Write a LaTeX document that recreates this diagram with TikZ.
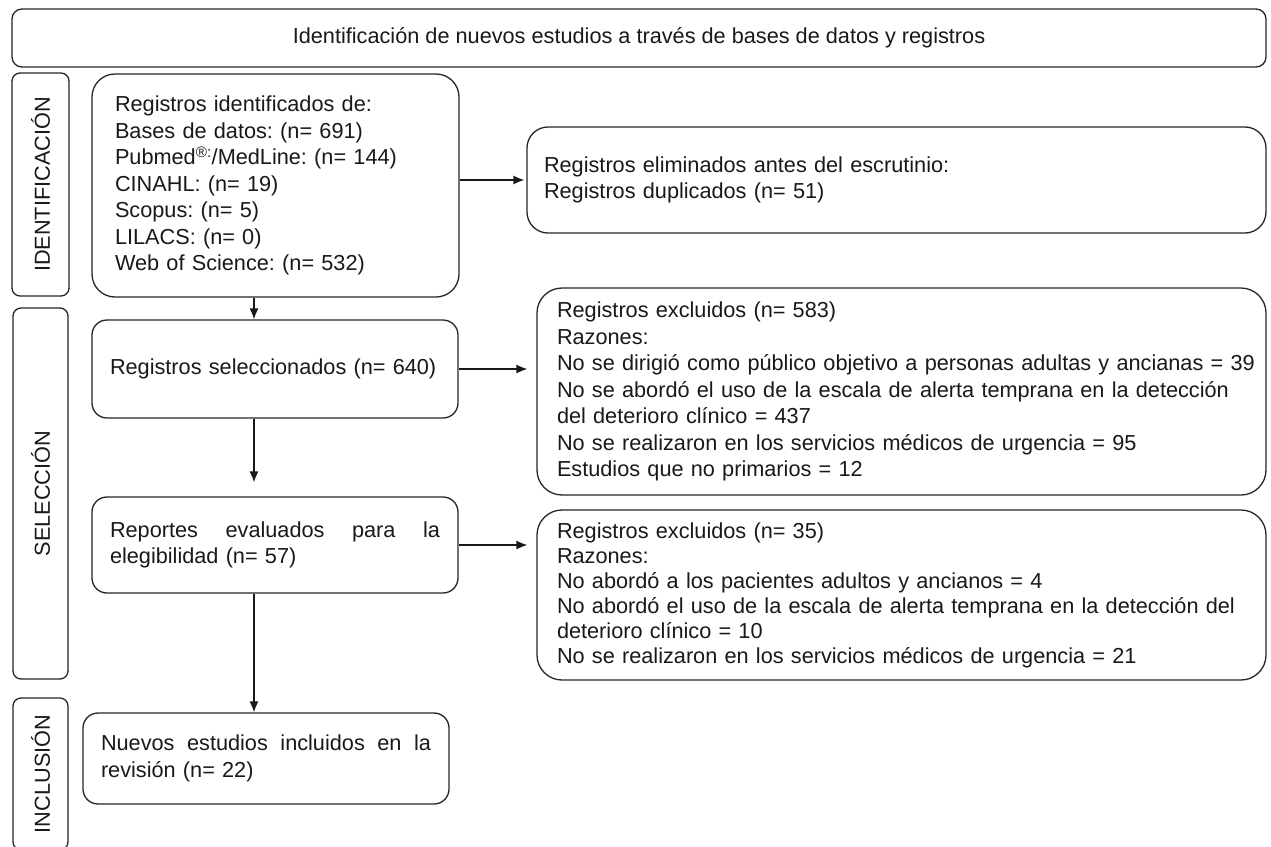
\documentclass[tikz,border=0pt]{standalone}
\usepackage{fontspec}
\setmainfont{Liberation Sans}
\usetikzlibrary{arrows.meta,calc}
\begin{document}
\begin{tikzpicture}[x=1pt,y=-1pt,
  every node/.style={font=\fontsize{21.7}{26.5}\selectfont\frenchspacing, text=black!90},
  box/.style={draw=black!85, line width=1.3pt, inner ysep=0pt, align=left},
  side/.style={draw=black!85, line width=1.3pt, rounded corners=8pt, rotate=90, inner sep=0pt},
  arr/.style={draw=black!90, line width=1.3pt, -{Latex[length=11pt,width=9pt]}}]
\useasboundingbox (0,0) rectangle (1271,846);
\clip (0,0) rectangle (1271,846);
\fill[white] (0,0) rectangle (1271,846);

\node[box, rounded corners=10pt, minimum width=1254pt, minimum height=58pt, align=center] (top) at (639,38)
  {Identificación de nuevos estudios a través de bases de datos y registros};

\node[side, minimum width=223pt, minimum height=57pt] (sid1) at (40.5,184.5) {IDENTIFICACIÓN};
\node[side, minimum width=371pt, minimum height=55pt] (sid2) at (40.5,493.5) {SELECCIÓN};
\node[side, minimum width=152pt, minimum height=55pt] (sid3) at (40.5,774) {INCLUSIÓN};

\node[box, rounded corners=23pt, minimum width=367pt, minimum height=223pt, inner xsep=23pt, text width=321pt] (b1) at (275.5,185.5)
  {Registros identificados de:\\
   Bases de datos: (n= 691)\\
   Pubmed\textsuperscript{®:}/MedLine: (n= 144)\\
   CINAHL: (n= 19)\\
   Scopus: (n= 5)\\
   LILACS: (n= 0)\\
   Web of Science: (n= 532)};

\node[box, rounded corners=21pt, minimum width=739pt, minimum height=106pt, inner xsep=17pt, text width=705pt] (r1) at (896.5,180)
  {Registros eliminados antes del escrutinio:\\
   Registros duplicados (n= 51)};

\node[box, rounded corners=15pt, minimum width=366pt, minimum height=98pt, inner xsep=18pt, text width=330pt] (b2) at (275,369)
  {Registros seleccionados (n= 640)};

\node[box, rounded corners=25pt, minimum width=729pt, minimum height=207pt, inner xsep=20pt, text width=689pt] (r2) at (901.5,391.5)
  {Registros excluidos (n= 583)\\
   Razones:\\
   \mbox{No se dirigió como público objetivo a personas adultas y ancianas = 39}\\
   \mbox{No se abordó el uso de la escala de alerta temprana en la detección}\\
   del deterioro clínico = 437\\
   No se realizaron en los servicios médicos de urgencia = 95\\
   Estudios que no primarios = 12};

\node[box, rounded corners=15pt, minimum width=366pt, minimum height=96pt, inner xsep=18pt, text width=330pt] (b3) at (275,545)
  {\hbox to 330pt{Reportes\hfill evaluados\hfill para\hfill la}\\
   elegibilidad (n= 57)};

\node[box, rounded corners=25pt, minimum width=729pt, minimum height=170pt, inner xsep=20pt, text width=689pt, font=\fontsize{21.7}{25}\selectfont\frenchspacing] (r3) at (901.5,595)
  {Registros excluidos (n= 35)\\
   Razones:\\
   No abordó a los pacientes adultos y ancianos = 4\\
   \mbox{No abordó el uso de la escala de alerta temprana en la detección del}\\
   deterioro clínico = 10\\
   No se realizaron en los servicios médicos de urgencia = 21};

\node[box, rounded corners=15pt, minimum width=366pt, minimum height=91pt, inner xsep=18pt, text width=330pt] (b4) at (266,758.5)
  {\hbox to 330pt{Nuevos\hfill estudios\hfill incluidos\hfill en\hfill la}\\
   revisión (n= 22)};

\coordinate (ax) at (254,0);
\draw[arr] (ax |- b1.south) -- (ax |- b2.north);
\draw[arr, shorten >=14pt] (ax |- b2.south) -- (ax |- b3.north);
\draw[arr] (ax |- b3.south) -- (ax |- b4.north);
\draw[arr, shorten >=2pt] (r1.west -| b1.east) -- (r1.west);
\draw[arr, shorten >=9pt] (b2.east) -- (b2.east -| r2.west);
\draw[arr, shorten >=9pt] (b3.east) -- (b3.east -| r3.west);
\end{tikzpicture}
\end{document}
